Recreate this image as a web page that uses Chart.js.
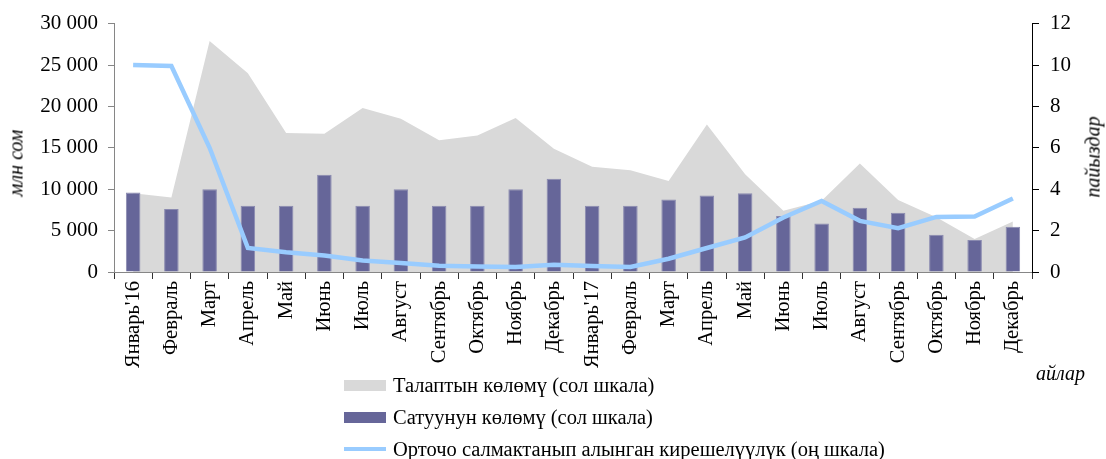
<!DOCTYPE html>
<html>
<head>
<meta charset="utf-8">
<script src="https://cdn.jsdelivr.net/npm/chart.js@4"></script>
<style>
  body { margin: 0; background: #fff; }
  #wrap { position: relative; width: 1106px; height: 459px; }
  #legend { position: absolute; left: 344px; top: 369px; font-family: "Liberation Serif", serif; font-size: 20.5px; color: #000; }
  .row { height: 32px; display: flex; align-items: center; }
  .sw { width: 42px; margin-right: 7px; }
  .ttl { position: absolute; font-family: "Liberation Serif", serif; font-style: italic; font-size: 20px; white-space: nowrap; }
  #xtitle { left: 1036px; top: 362px; }
  #ytitle { left: 16px; top: 163px; transform: translate(-50%, -50%) rotate(-90deg); }
  #y1title { left: 1093px; top: 157px; transform: translate(-50%, -50%) rotate(-90deg); }
</style>
</head>
<body>
<div id="wrap">
  <canvas id="chart" width="1106" height="459"></canvas>
  <div id="legend"></div>
  <div id="xtitle" class="ttl">айлар</div>
  <div id="ytitle" class="ttl">млн сом</div>
  <div id="y1title" class="ttl">пайыздар</div>
</div>
<script>
const months = ["Январь'16", "Февраль", "Март", "Апрель", "Май", "Июнь", "Июль", "Август", "Сентябрь", "Октябрь", "Ноябрь", "Декабрь",
                "Январь'17", "Февраль", "Март", "Апрель", "Май", "Июнь", "Июль", "Август", "Сентябрь", "Октябрь", "Ноябрь", "Декабрь"];
// млн сом
const demand = [9500, 9000, 27900, 24000, 16800, 16700, 19800, 18500, 15900, 16500, 18600, 14900,
                12700, 12300, 11000, 17800, 11800, 7400, 8600, 13100, 8700, 6600, 4000, 6100];
const sales = [9600, 7600, 10000, 8000, 8000, 11750, 8000, 10000, 8000, 8000, 10000, 11250,
               8000, 8000, 8750, 9250, 9500, 6750, 5850, 7750, 7150, 4500, 3850, 5450];
// пайыздар
const yieldRate = [10.0, 9.95, 6.0, 1.16, 0.95, 0.8, 0.56, 0.43, 0.3, 0.27, 0.24, 0.35,
                   0.29, 0.24, 0.64, 1.16, 1.67, 2.63, 3.43, 2.47, 2.12, 2.66, 2.68, 3.55];

const seriesNames = ["Талаптын көлөмү (сол шкала)", "Сатуунун көлөмү (сол шкала)", "Орточо салмактанып алынган кирешелүүлүк (оң шкала)"];
const colors = ["#d9d9d9", "#666699", "#99ccff"];

const tickFont = { family: "Liberation Serif", size: 20.5 };

function fmt(v) {
    return String(v).replace(/\B(?=(\d{3})+(?!\d))/g, " ");
}

new Chart(document.getElementById('chart'), {
    type: 'bar',
    data: {
        labels: months,
        datasets: [{
            type: 'line',
            label: seriesNames[0],
            data: demand,
            yAxisID: 'y',
            backgroundColor: colors[0],
            borderWidth: 0,
            pointRadius: 0,
            fill: 'origin',
            order: 3
        }, {
            label: seriesNames[1],
            data: sales,
            yAxisID: 'y',
            backgroundColor: colors[1],
            borderColor: "#8a8ab0",
            borderWidth: 1,
            categoryPercentage: 1,
            barPercentage: 0.38,
            order: 2
        }, {
            type: 'line',
            label: seriesNames[2],
            data: yieldRate,
            yAxisID: 'y1',
            borderColor: colors[2],
            borderWidth: 4.5,
            pointRadius: 0,
            fill: false,
            order: 1
        }]
    },
    options: {
        responsive: false,
        animation: false,
        layout: { padding: { top: 20, left: 0, right: 0, bottom: 0 } },
        plugins: { legend: { display: false }, tooltip: { enabled: false } },
        scales: {
            x: {
                offset: true,
                grid: { display: true, drawOnChartArea: false, offset: true, tickLength: 7, color: '#333' },
                border: { color: '#868686' },
                ticks: { font: tickFont, color: '#000', minRotation: 90, maxRotation: 90, autoSkip: false, padding: 2 },
                afterFit: function (s) { s.height = 187; }
            },
            y: {
                position: 'left',
                min: 0, max: 30000,
                grid: { drawOnChartArea: false, tickLength: 6, color: '#868686' },
                border: { color: '#868686' },
                ticks: { stepSize: 5000, font: { family: "Liberation Serif", size: 21 }, color: '#000', padding: 10, callback: v => fmt(v) },
                afterFit: function (s) { s.width = 114; }
            },
            y1: {
                position: 'right',
                min: 0, max: 12,
                grid: { drawOnChartArea: false, tickLength: 7, color: '#000' },
                border: { color: '#000' },
                ticks: { stepSize: 2, font: { family: "Liberation Serif", size: 21 }, color: '#000', padding: 11 },
                afterFit: function (s) { s.width = 74; }
            }
        }
    }
});

// legend as html rows
const legend = document.getElementById('legend');
seriesNames.forEach(function (name, i) {
    const row = document.createElement('div');
    row.className = 'row';
    const sw = document.createElement('span');
    sw.className = 'sw';
    sw.style.height = i === 2 ? '4px' : '11px';
    sw.style.background = colors[i];
    const txt = document.createElement('span');
    txt.textContent = name;
    row.appendChild(sw);
    row.appendChild(txt);
    legend.appendChild(row);
});
</script>
</body>
</html>
